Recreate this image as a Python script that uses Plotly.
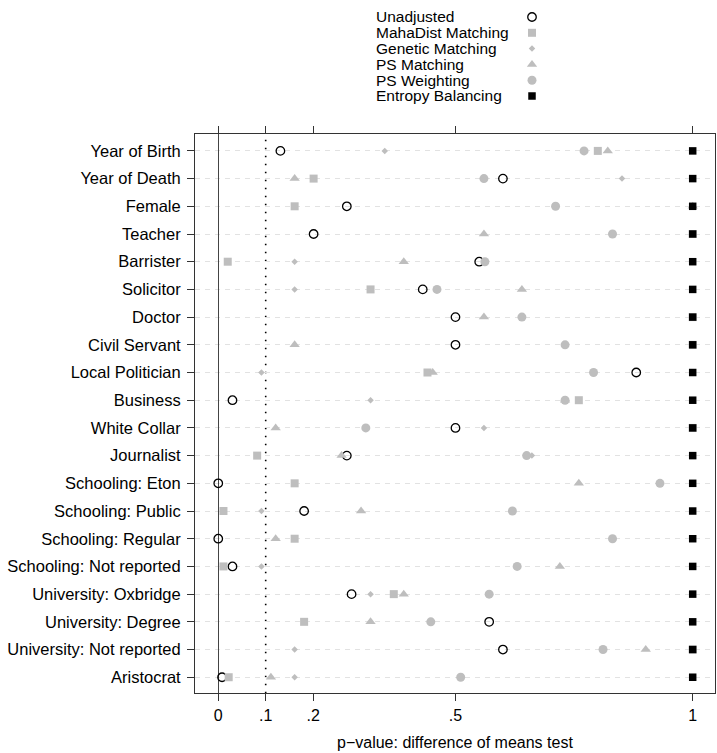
import plotly.graph_objects as go

# Covariates, top to bottom
covariates = [
    "Year of Birth", "Year of Death", "Female", "Teacher", "Barrister",
    "Solicitor", "Doctor", "Civil Servant", "Local Politician", "Business",
    "White Collar", "Journalist", "Schooling: Eton", "Schooling: Public",
    "Schooling: Regular", "Schooling: Not reported", "University: Oxbridge",
    "University: Degree", "University: Not reported", "Aristocrat",
]

# p-values of the difference-of-means test for each balancing method
unadjusted = [0.131, 0.600, 0.271, 0.201, 0.550, 0.431, 0.500, 0.500, 0.881, 0.030,
              0.500, 0.271, 0.000, 0.181, 0.000, 0.030, 0.281, 0.571, 0.600, 0.008]
mahadist = [0.800, 0.201, 0.161, 1.000, 0.020, 0.321, 1.000, 1.000, 0.441, 0.760,
            1.000, 0.082, 0.161, 0.011, 0.161, 0.011, 0.370, 0.181, 1.000, 0.022]
genetic = [0.351, 0.851, 1.000, 1.000, 0.161, 0.161, 1.000, 1.000, 0.091, 0.321,
           0.560, 0.661, 1.000, 0.091, 1.000, 0.091, 0.321, 1.000, 0.161, 0.161]
ps_matching = [0.821, 0.161, 1.000, 0.560, 0.391, 0.640, 0.560, 0.161, 0.452, 0.731,
               0.121, 0.260, 0.760, 0.301, 0.121, 0.720, 0.391, 0.321, 0.901, 0.111]
ps_weighting = [0.771, 0.560, 0.711, 0.831, 0.562, 0.461, 0.640, 0.731, 0.791, 0.731,
                0.311, 0.650, 0.931, 0.620, 0.831, 0.630, 0.571, 0.448, 0.811, 0.511]
entropy = [1.0, 1.0, 1.0, 1.0, 1.0, 1.0, 1.0, 1.0, 1.0, 1.0,
           1.0, 1.0, 1.0, 1.0, 1.0, 1.0, 1.0, 1.0, 1.0, 1.0]

method_names = ["Unadjusted", "MahaDist Matching", "Genetic Matching",
                "PS Matching", "PS Weighting", "Entropy Balancing"]
method_values = [unadjusted, mahadist, genetic, ps_matching, ps_weighting, entropy]

x_tickvals = [0, 0.1, 0.2, 0.5, 1]
x_ticktext = ["0", ".1", ".2", ".5", "1"]
threshold = 0.1

GRAY = "#bebebe"
marker_styles = [
    dict(symbol="circle-open", size=8.5, color="black", line=dict(color="black", width=1.3)),
    dict(symbol="square", size=8, color=GRAY),
    dict(symbol="diamond", size=5, color=GRAY),
    dict(symbol="triangle-up", size=9, color=GRAY),
    dict(symbol="circle", size=9, color=GRAY),
    dict(symbol="square", size=7.5, color="black"),
]

FONT = "Liberation Sans, Arial, Helvetica, sans-serif"
FS_LABEL = 16.5
FS_LEGEND = 15.5
FS_AXIS = 16
W, H = 717, 753

fig = go.Figure()

for name, vals, mk in zip(method_names, method_values, marker_styles):
    fig.add_trace(go.Scatter(
        x=vals, y=covariates, mode="markers", name=name,
        marker=mk, cliponaxis=False, showlegend=False,
        xaxis="x", yaxis="y",
    ))

# Legend block drawn on its own small axes: labels left, symbols right
for i, (name, mk) in enumerate(zip(method_names, marker_styles)):
    fig.add_trace(go.Scatter(
        x=[1], y=[i], mode="markers", marker=mk, showlegend=False,
        xaxis="x2", yaxis="y2", cliponaxis=False, hoverinfo="skip",
    ))
    fig.add_annotation(
        x=0, y=i, xref="x2", yref="y2", text=name, showarrow=False,
        xanchor="left", yanchor="middle", borderpad=0,
        font=dict(family=FONT, size=FS_LEGEND, color="black"),
    )

# Significance threshold
fig.add_shape(
    type="line", xref="x", yref="y domain", x0=threshold, x1=threshold, y0=0, y1=1,
    line=dict(color="black", width=1.6, dash="1.6px,6.4px"), layer="below",
)

fig.add_annotation(
    x=0.5, y=1 - 742 / H, xref="x domain", yref="paper",
    text="p\u2212value: difference of means test", showarrow=False,
    xanchor="center", yanchor="middle", font=dict(family=FONT, size=FS_AXIS, color="black"),
)

fig.update_layout(
    width=W, height=H, autosize=False,
    margin=dict(l=0, r=0, t=0, b=0),
    paper_bgcolor="white", plot_bgcolor="white",
    font=dict(family=FONT, size=FS_LABEL, color="black"),
    xaxis=dict(
        domain=[195 / W, 715 / W], range=[-0.049, 1.047],
        tickmode="array", tickvals=x_tickvals, ticktext=x_ticktext,
        ticks="outside", ticklen=7, tickcolor="#333", tickwidth=1,
        showline=True, linecolor="#333", linewidth=1, mirror="ticks",
        showgrid=False, zeroline=True, zerolinecolor="#444", zerolinewidth=1,
        tickfont=dict(family=FONT, size=FS_AXIS, color="black"),
    ),
    yaxis=dict(
        domain=[(H - 693.3) / H, (H - 134) / H],
        type="category", categoryorder="array", categoryarray=covariates,
        range=[19.58, -0.61],
        ticks="outside", ticklen=7, tickcolor="#333", tickwidth=1,
        ticklabelstandoff=3,
        showline=True, linecolor="#333", linewidth=1, mirror=True,
        showgrid=True, gridcolor="#e2e2e2", gridwidth=1, griddash="5px,5px",
        zeroline=False,
        tickfont=dict(family=FONT, size=FS_LABEL, color="black"),
    ),
    xaxis2=dict(domain=[375 / W, 532 / W], range=[0, 1], visible=False,
                anchor="y2", fixedrange=True),
    yaxis2=dict(domain=[1 - 96 / H, 1 - 17 / H], range=[5, 0], visible=False,
                anchor="x2", fixedrange=True),
)

fig.write_html("out.html")
